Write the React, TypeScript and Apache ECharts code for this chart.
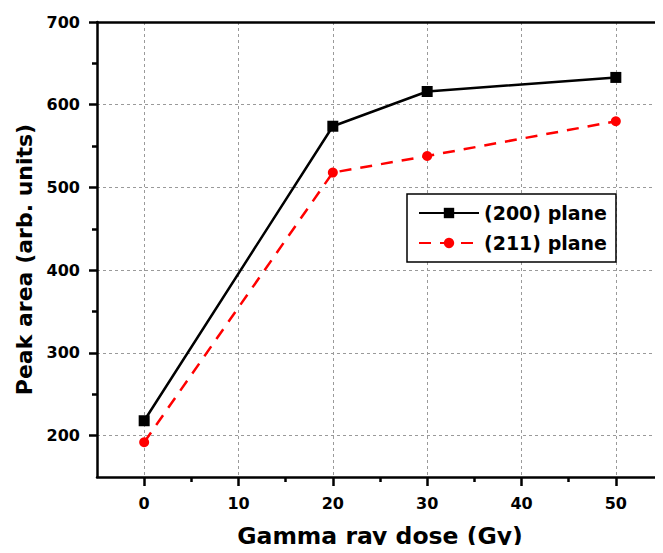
import React, { useEffect, useRef } from "react";
import * as echarts from "echarts";

// Gamma dose (Gy) and peak areas for two diffraction planes
const doses = [0, 20, 30, 50];
const plane200 = [218, 574, 616, 633];
const plane211 = [192, 518, 538, 580];
const seriesNames = ["(200) plane", "(211) plane"];
const xTicks = [0, 10, 20, 30, 40, 50];
const xMinorTicks = [5, 15, 25, 35, 45];
const yTicks = [200, 300, 400, 500, 600, 700];
const yMinorTicks = [250, 350, 450, 550, 650];

const FONT = "DejaVu Sans";

const labelFont = { fontFamily: FONT, fontWeight: "bold" as const, fontSize: 16, color: "#000" };
const gridLineStyle = { color: "#9a9a9a", width: 1, type: [3, 3] as number[] };
const frameLine = { color: "#000", width: 2.5 };

export default function App() {
  const ref = useRef<HTMLDivElement>(null);

  useEffect(() => {
    if (!ref.current) return;
    const chart = echarts.init(ref.current, null, { renderer: "svg" });
    chart.setOption({
      animation: false,
      backgroundColor: "#ffffff",
      grid: {
        left: 97,
        top: 22,
        width: 571,
        height: 459,
      },
      xAxis: [
        {
          type: "value",
          min: -5,
          max: 55,
          interval: 5,
          position: "bottom",
          name: "Gamma ray dose (Gy)",
          nameLocation: "middle",
          nameGap: 47,
          nameTextStyle: { fontFamily: FONT, fontWeight: "bold", fontSize: 23.5, color: "#000" },
          axisLine: { show: true, onZero: false, lineStyle: frameLine },
          axisTick: { show: true, length: 9, customValues: xTicks, lineStyle: frameLine },
          axisLabel: { margin: 18, customValues: xTicks, ...labelFont },
          splitLine: { show: true, lineStyle: gridLineStyle },
        },
        {
          // minor ticks between the labelled doses
          type: "value",
          min: -5,
          max: 55,
          interval: 5,
          position: "bottom",
          axisLine: { show: false, onZero: false },
          axisTick: { show: true, length: 5, customValues: xMinorTicks, lineStyle: frameLine },
          axisLabel: { show: false },
          splitLine: { show: false },
        },
        {
          // top frame line
          type: "value",
          min: -5,
          max: 55,
          position: "top",
          z: 3,
          axisLine: { show: true, onZero: false, lineStyle: frameLine },
          axisTick: { show: false },
          axisLabel: { show: false },
          splitLine: { show: false },
        },
      ],
      yAxis: [
        {
          type: "value",
          min: 150,
          max: 700,
          interval: 50,
          position: "left",
          name: "Peak area (arb. units)",
          nameLocation: "middle",
          nameGap: 60,
          nameRotate: 90,
          nameTextStyle: {
            fontFamily: FONT,
            fontWeight: "bold",
            fontSize: 22,
            color: "#000",
            padding: [0, 20, 0, 0],
          },
          axisLine: { show: true, onZero: false, lineStyle: frameLine },
          axisTick: { show: true, length: 8, customValues: yTicks, lineStyle: frameLine },
          axisLabel: { margin: 17, customValues: yTicks, ...labelFont },
          splitLine: { show: true, lineStyle: gridLineStyle },
        },
        {
          type: "value",
          min: 150,
          max: 700,
          interval: 50,
          position: "left",
          axisLine: { show: false, onZero: false },
          axisTick: { show: true, length: 5, customValues: yMinorTicks, lineStyle: frameLine },
          axisLabel: { show: false },
          splitLine: { show: false },
        },
      ],
      legend: {
        orient: "vertical",
        left: 407,
        top: 194,
        padding: [9, 9, 9, 11],
        itemWidth: 60,
        itemHeight: 13,
        itemGap: 10,
        backgroundColor: "#ffffff",
        borderColor: "#000",
        borderWidth: 1.5,
        borderRadius: 0,
        data: seriesNames,
        textStyle: {
          fontFamily: FONT,
          fontWeight: "bold",
          fontSize: 19,
          lineHeight: 20,
          color: "#000",
        },
      },
      series: [
        {
          name: seriesNames[0],
          type: "line",
          data: doses.map((d, i) => [d, plane200[i]]),
          symbol: "rect",
          symbolSize: 11,
          itemStyle: { color: "#000" },
          lineStyle: { color: "#000", width: 2.5 },
          z: 3,
        },
        {
          name: seriesNames[1],
          type: "line",
          data: doses.map((d, i) => [d, plane211[i]]),
          symbol: "circle",
          symbolSize: 10,
          itemStyle: { color: "#ff0000" },
          lineStyle: { color: "#ff0000", width: 2.5, type: [12, 9] as number[] },
          z: 4,
        },
      ],
    });
    return () => chart.dispose();
  }, []);

  return <div ref={ref} style={{ width: 663, height: 553, margin: -8 }} />;
}
